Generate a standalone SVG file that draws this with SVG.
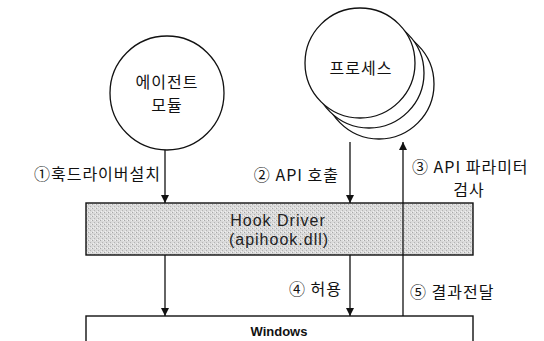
<svg xmlns="http://www.w3.org/2000/svg" width="544" height="341" viewBox="0 0 544 341">
  <style>
    .node { fill: #ffffff; stroke: #111111; stroke-width: 1.3; }
    .box { stroke: #111111; stroke-width: 1.4; }
    .kr { font-family: "Noto Sans CJK KR", "Noto Sans", sans-serif; font-size: 16px; fill: #111111; letter-spacing: 1px; }
    .en { font-family: "Liberation Sans", Arial, sans-serif; font-size: 16px; fill: #222222; letter-spacing: 1px; }
    .conn { stroke: #111111; stroke-width: 1.3; fill: none; marker-end: url(#arrow); }
  </style>
  <defs>
    <marker id="arrow" markerUnits="userSpaceOnUse" markerWidth="8" markerHeight="9" refX="8" refY="4" orient="auto">
      <path d="M0,0 L8,4 L0,8 z" fill="#111111"/>
    </marker>
    <pattern id="stipple" width="4" height="4" patternUnits="userSpaceOnUse">
      <rect width="4" height="4" fill="#dadada"/>
      <rect x="0" y="0" width="1" height="1" fill="#a8a8a8"/>
      <rect x="2" y="2" width="1" height="1" fill="#b4b4b4"/>
      <rect x="3" y="0" width="1" height="1" fill="#f0f0f0"/>
      <rect x="1" y="3" width="1" height="1" fill="#f0f0f0"/>
    </pattern>
  </defs>
  <rect width="544" height="341" fill="#ffffff"/>

  <g id="agent">
    <circle class="node" cx="167" cy="93" r="57"/>
    <text class="kr" x="167" y="88" text-anchor="middle">에이전트</text>
    <text class="kr" x="167" y="111" text-anchor="middle">모듈</text>
  </g>

  <g id="process">
    <circle class="node" cx="379" cy="84" r="55"/>
    <circle class="node" cx="369" cy="73" r="55"/>
    <circle class="node" cx="360" cy="63" r="55"/>
    <text class="kr" x="361" y="74" text-anchor="middle">프로세스</text>
  </g>

  <g id="hook">
    <rect class="box" x="86" y="203" width="387" height="52" fill="url(#stipple)"/>
    <text class="en" x="278" y="226" text-anchor="middle">Hook Driver</text>
    <text class="en" x="279" y="245" text-anchor="middle">(apihook.dll)</text>
  </g>

  <g id="windows">
    <rect class="box" x="86" y="316" width="387" height="60" fill="#ffffff"/>
    <text x="279" y="336" text-anchor="middle" font-family="Liberation Sans, Arial, sans-serif" font-size="13" font-weight="bold" fill="#111111">Windows</text>
  </g>

  <g id="connectors">
    <line class="conn" x1="165" y1="150" x2="165" y2="203"/>
    <line class="conn" x1="350" y1="142" x2="350" y2="203"/>
    <line class="conn" x1="403" y1="316" x2="403" y2="142"/>
    <line class="conn" x1="350" y1="255" x2="350" y2="316"/>
    <line class="conn" x1="165" y1="255" x2="165" y2="316"/>
  </g>

  <g id="labels">
    <text class="kr" x="161" y="180" text-anchor="end">①훅드라이버설치</text>
    <text class="kr" x="339" y="181" text-anchor="end">② API 호출</text>
    <text class="kr" x="412" y="173">③ API 파라미터</text>
    <text class="kr" x="469" y="196" text-anchor="middle">검사</text>
    <text class="kr" x="342" y="295" text-anchor="end">④ 허용</text>
    <text class="kr" x="410" y="298">⑤ 결과전달</text>
  </g>
</svg>
